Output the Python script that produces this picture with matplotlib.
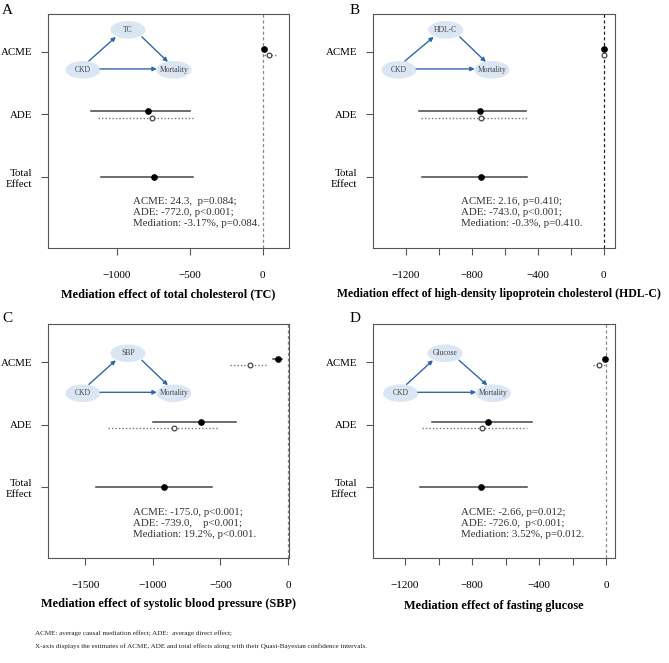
import numpy as np
import matplotlib.pyplot as plt
from matplotlib.patches import Ellipse

plt.rcParams['font.family'] = ['Liberation Serif', 'DejaVu Serif']

# Panel content
panel_labels = ['A', 'B', 'C', 'D']
mediators = ['TC', 'HDL-C', 'SBP', 'Glucose']
titles = ['Mediation effect of total cholesterol (TC)',
          'Mediation effect of high-density lipoprotein cholesterol (HDL-C)',
          'Mediation effect of systolic blood pressure (SBP)',
          'Mediation effect of fasting glucose']
row_labels = ['ACME', 'ADE', 'Total\nEffect']
stats_text = ['ACME: 24.3,  p=0.084;\nADE: -772.0, p<0.001;\nMediation: -3.17%, p=0.084.',
              'ACME: 2.16, p=0.410;\nADE: -743.0, p<0.001;\nMediation: -0.3%, p=0.410.',
              'ACME: -175.0, p<0.001;\nADE: -739.0,    p<0.001;\nMediation: 19.2%, p<0.001.',
              'ACME: -2.66, p=0.012;\nADE: -726.0,  p<0.001;\nMediation: 3.52%, p=0.012.']

# ACME, treated (filled) and control (open)
acme_t = [10, 2, -77, -6]
acme_t_lo = [3, 0, -113, -12]
acme_t_hi = [17, 4, -44, -1]
acme_c = [42, 2, -280, -44]
acme_c_lo = [10, -2, -432, -82]
acme_c_hi = [100, 6, -162, -8]
# ADE, treated (filled) and control (open)
ade_t = [-790, -749, -643, -708]
ade_t_lo = [-1180, -1117, -1002, -1040]
ade_t_hi = [-500, -473, -383, -446]
ade_c = [-758, -745, -842, -744]
ade_c_lo = [-1128, -1109, -1333, -1097]
ade_c_hi = [-481, -467, -513, -472]
# Total effect
tot = [-747, -743, -918, -750]
tot_lo = [-1110, -1099, -1421, -1111]
tot_hi = [-477, -467, -562, -476]

# axis setup per panel
xlims = [(-1473, 178), (-1396, 68), (-1775, 5), (-1389, 50)]
xticks = [[-1000, -500, 0], list(range(-1200, 1, 200)),
          [-1500, -1000, -500, 0], list(range(-1200, 1, 200))]
xticklabels = [['\u22121000', '\u2212500', '0'],
               ['\u22121200', '', '\u2212800', '', '\u2212400', '', '0'],
               ['\u22121500', '\u22121000', '\u2212500', '0'],
               ['\u22121200', '', '\u2212800', '', '\u2212400', '', '0']]
vline_color = ['#888888', '#222222', '#888888', '#888888']
stats_x = [0.353, 0.363, 0.353, 0.363]
title_x = [0.5, 0.522, 0.5, 0.5]
title_size = [8.8, 8.5, 8.8, 8.8]
# diagram node centres (axes fraction): mediator, CKD, Mortality
med_xy = [(0.332, 0.932), (0.300, 0.932), (0.332, 0.876), (0.297, 0.876)]
ckd_xy = [(0.145, 0.761), (0.106, 0.761), (0.145, 0.705), (0.113, 0.705)]
mort_xy = [(0.523, 0.761), (0.491, 0.761), (0.523, 0.705), (0.497, 0.705)]

fig = plt.figure(figsize=(6.69, 6.63), dpi=100)
positions = [[0.0717, 0.626, 0.360, 0.353], [0.558, 0.626, 0.361, 0.353],
             [0.0717, 0.158, 0.360, 0.353], [0.558, 0.158, 0.361, 0.353]]
label_pos = [(0.003, 0.994), (0.523, 0.994), (0.003, 0.529), (0.523, 0.529)]

line_col = '#444444'
node_col = '#dbe6f4'
arrow_col = '#2e67ad'

for i in range(4):
    ax = fig.add_axes(positions[i])
    ax.axvline(0, color=vline_color[i], ls=(0, (2.5, 2)), lw=0.9, zorder=1)

    # ACME
    ax.plot([acme_t_lo[i], acme_t_hi[i]], [3.05, 3.05], color=line_col, lw=1.1)
    ax.plot(acme_t[i], 3.05, 'o', color='black', ms=3.8, zorder=3)
    ax.plot([acme_c_lo[i], acme_c_hi[i]], [2.95, 2.95], color='#777777', lw=1.0, ls=(0, (1, 1.5)))
    ax.plot(acme_c[i], 2.95, 'o', mfc='white', mec='#444444', mew=0.9, ms=3.4, zorder=3)
    # ADE
    ax.plot([ade_t_lo[i], ade_t_hi[i]], [2.05, 2.05], color=line_col, lw=1.1)
    ax.plot(ade_t[i], 2.05, 'o', color='black', ms=3.8, zorder=3)
    ax.plot([ade_c_lo[i], ade_c_hi[i]], [1.95, 1.95], color='#777777', lw=1.0, ls=(0, (1, 1.5)))
    ax.plot(ade_c[i], 1.95, 'o', mfc='white', mec='#444444', mew=0.9, ms=3.4, zorder=3)
    # Total effect
    ax.plot([tot_lo[i], tot_hi[i]], [1, 1], color=line_col, lw=1.1)
    ax.plot(tot[i], 1, 'o', color='black', ms=3.8, zorder=3)

    ax.set_xlim(xlims[i])
    ax.set_ylim(-0.14, 3.61)
    ax.set_yticks([3, 2, 1])
    ax.set_yticklabels(row_labels, fontsize=7.8, ha='right', linespacing=1.3)
    ax.set_xticks(xticks[i])
    ax.set_xticklabels(xticklabels[i], fontsize=8)
    ax.tick_params(axis='x', length=5, width=0.8, color='#555555', pad=11.5)
    ax.tick_params(axis='y', length=5, width=0.8, color='#555555', pad=6.5)
    for sp in ax.spines.values():
        sp.set_color('#555555')
        sp.set_linewidth(0.8)

    ax.text(title_x[i], -0.197 if i < 3 else -0.205, titles[i], transform=ax.transAxes,
            ha='center', va='center', fontsize=title_size[i], fontweight='bold')
    ax.text(stats_x[i], 0.150, stats_text[i], transform=ax.transAxes, ha='left', va='center',
            fontsize=7.8, color='#333333', linespacing=1.3)

    # small mediation diagram
    for (cx, cy), name in zip([med_xy[i], ckd_xy[i], mort_xy[i]], [mediators[i], 'CKD', 'Mortality']):
        ax.add_patch(Ellipse((cx, cy), 0.145, 0.075, transform=ax.transAxes,
                             facecolor=node_col, edgecolor='none', zorder=2))
        ax.text(cx, cy, name, transform=ax.transAxes, ha='center', va='center',
                fontsize=5.5, color='#444444', zorder=3)
    m, c, o = med_xy[i], ckd_xy[i], mort_xy[i]
    arrows = [((c[0] + 0.025, c[1] + 0.038), (m[0] - 0.05, m[1] - 0.03)),
              ((m[0] + 0.058, m[1] - 0.03), (o[0] - 0.025, o[1] + 0.034)),
              ((c[0] + 0.071, c[1] + 0.004), (o[0] - 0.071, o[1] + 0.004))]
    for start, end in arrows:
        ax.annotate('', xy=end, xytext=start, xycoords='axes fraction', textcoords='axes fraction',
                    arrowprops=dict(arrowstyle='-|>', color=arrow_col, lw=1.0,
                                    mutation_scale=6, shrinkA=0, shrinkB=0), zorder=3)

    fig.text(label_pos[i][0], label_pos[i][1], panel_labels[i], fontsize=11, va='top', ha='left')

fig.text(35 / 669, 1 - 633 / 663, 'ACME: average causal mediation effect; ADE:  average direct effect;',
         fontsize=5.1, va='center', ha='left', color='#222222')
fig.text(35 / 669, 1 - 646 / 663,
         'X-axis displays the estimates of ACME, ADE and total effects along with their Quasi-Bayesian confidence intervals.',
         fontsize=5.1, va='center', ha='left', color='#222222')

fig.savefig('out.png', dpi=100)
